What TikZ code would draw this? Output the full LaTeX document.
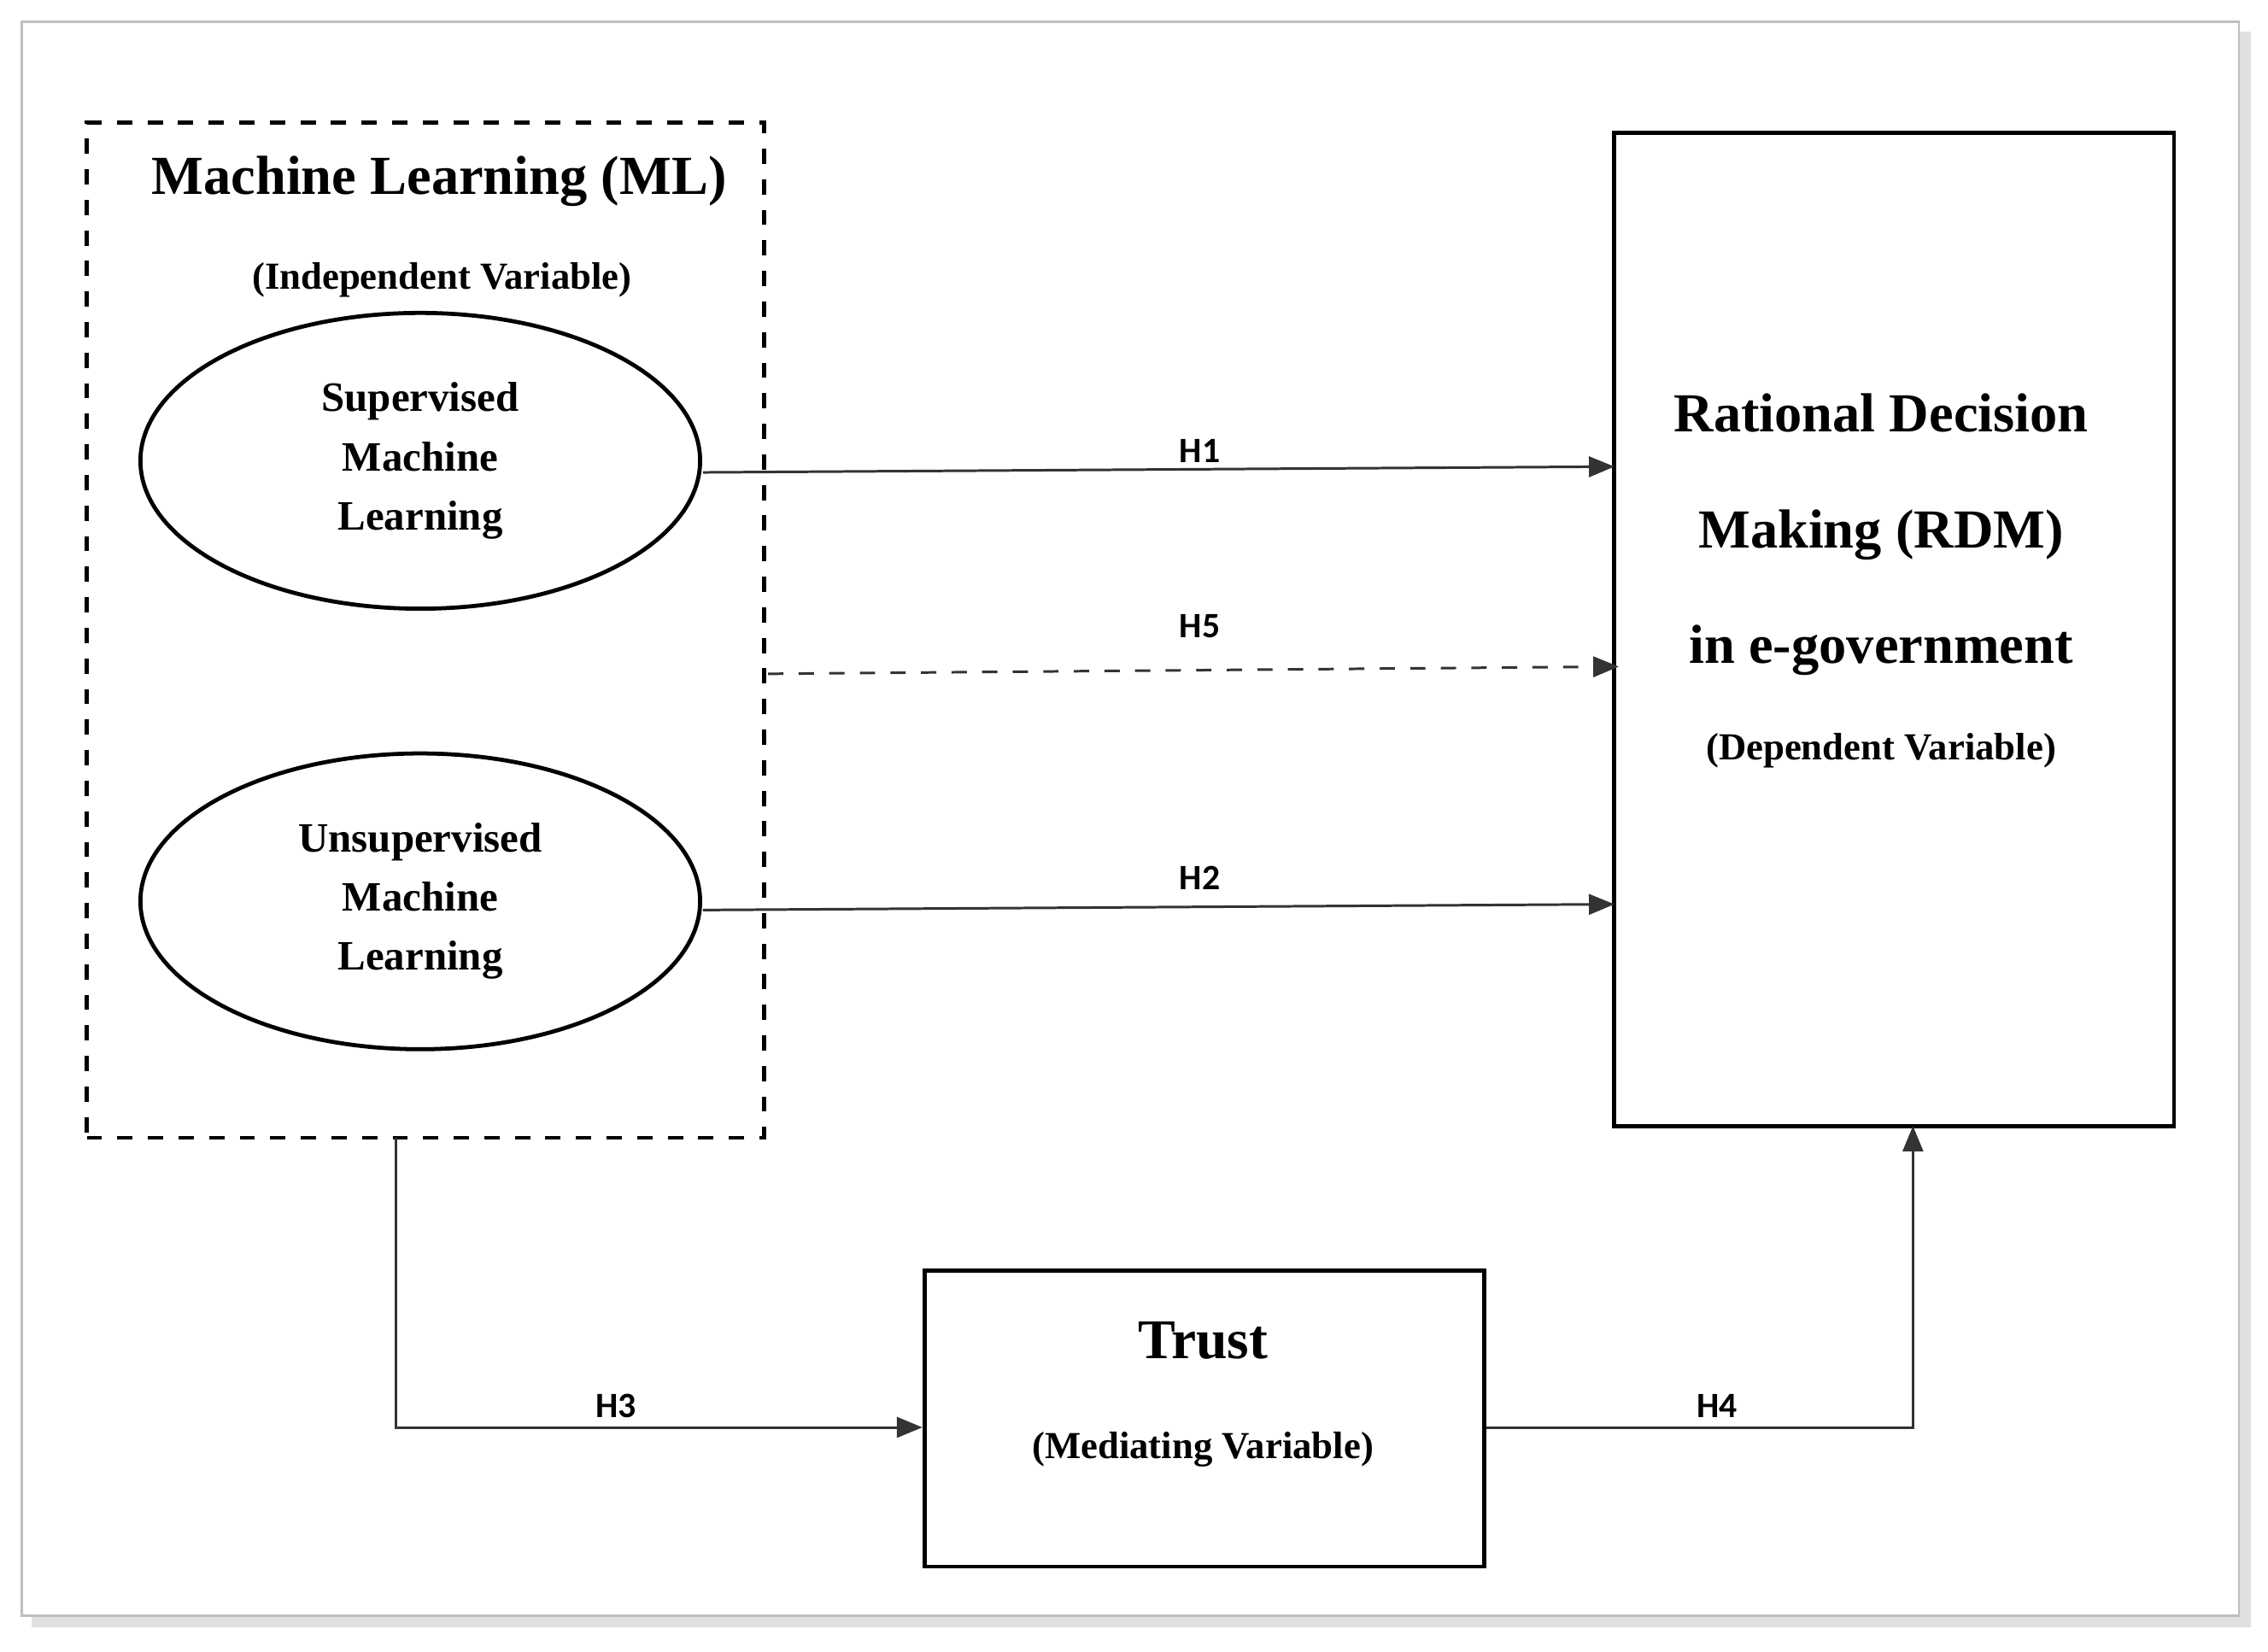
\documentclass[tikz,border=0pt]{standalone}
\usepackage{fontspec}
\setmainfont{Liberation Serif}
\newfontfamily\hfont{Carlito}
\usetikzlibrary{shapes.geometric,arrows.meta}
\begin{document}
\begin{tikzpicture}[x=0.01cm,y=-0.01cm,
  lbl/.style={font=\hfont\bfseries\fontsize{7}{8}\selectfont},
  arr/.style={draw=black!80,line width=0.5pt,-{Triangle[length=5pt,width=4pt]}},
  ell/.style={ellipse,draw,line width=0.8pt,minimum width=3.86cm,minimum height=2.04cm,inner sep=0pt,align=center,font=\bfseries\fontsize{8.2}{11.6}\selectfont},
  box/.style={draw,line width=0.8pt,inner sep=0pt}]
\useasboundingbox (0,0) rectangle (1565,1140);
\fill[black!12] (22,22) rectangle (1553,1123);
\draw[black!25,fill=white] (15,15) rectangle (1545,1115);
\node[box,dashed,minimum width=4.67cm,minimum height=7cm] (ml) at (293.5,435) {};
\node[font=\bfseries\fontsize{10.8}{13}\selectfont] (mlt) at (303,125) {Machine Learning (ML)};
\node[font=\bfseries\fontsize{7.5}{9}\selectfont] (mls) at (305,193) {(Independent Variable)};
\node[ell] (sml) at (290,318) {Supervised\\Machine\\Learning};
\node[ell] (uml) at (290,622) {Unsupervised\\Machine\\Learning};
\node[box,minimum width=3.86cm,minimum height=6.85cm] (rdm) at (1307,434.5) {};
\node[font=\bfseries\fontsize{10.8}{22.7}\selectfont,align=center] (rdmt) at (1298,369) {Rational Decision\\Making (RDM)\\in e-government};
\node[font=\bfseries\fontsize{7.5}{9}\selectfont] (rdms) at (1298,518) {(Dependent Variable)};
\node[box,minimum width=3.86cm,minimum height=2.04cm] (tr) at (831,979) {};
\node[font=\bfseries\fontsize{11}{13}\selectfont] (trt) at (830,925) {Trust};
\node[font=\bfseries\fontsize{7.5}{9}\selectfont] (trs) at (830,1000) {(Mediating Variable)};
\coordinate (h1s) at (485,326); \coordinate (h1e) at (1114,322);
\coordinate (h5s) at (530,465); \coordinate (h5e) at (1117,460);
\coordinate (h2s) at (485,628); \coordinate (h2e) at (1114,624);
\draw[arr] (h1s) -- (h1e);
\draw[arr,dashed] (h5s) -- (h5e);
\draw[arr] (h2s) -- (h2e);
\node[lbl] at (828,311) {H1};
\node[lbl] at (828,432) {H5};
\node[lbl] at (828,606) {H2};
\draw[arr] (273,785) -- (273,985) -- (tr.west |- 0,985);
\node[lbl] at (425,970) {H3};
\draw[arr] (tr.east |- 0,985) -- (1320,985) -- (1320,777);
\node[lbl] at (1185,970) {H4};
\end{tikzpicture}
\end{document}
